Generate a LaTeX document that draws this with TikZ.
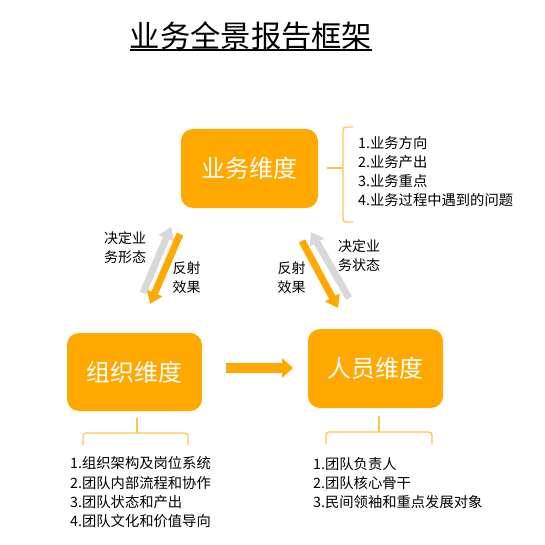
\documentclass[tikz,border=0pt]{standalone}
\usepackage{fontspec}
\newfontfamily\cjk{Noto Sans CJK SC}
\usetikzlibrary{arrows.meta,calc}
\definecolor{boxorange}{RGB}{255,168,0}
\definecolor{braceorange}{RGB}{255,196,80}
\definecolor{arrgray}{RGB}{216,216,216}
\begin{document}
\begin{tikzpicture}[x=1pt,y=-1pt,
  dimbox/.style={fill=boxorange, rounded corners=12pt, minimum width=137pt, minimum height=79pt, text=white, font=\cjk\fontsize{24}{28}\selectfont, inner sep=0pt},
  listtext/.style={font=\cjk\fontsize{14.3}{19.3}\selectfont, align=left, inner sep=0pt, anchor=west, text=black},
  lbl/.style={font=\cjk\fontsize{14}{19}\selectfont, align=left, inner sep=0pt},
  bracestyle/.style={draw=braceorange, line width=1.3pt, rounded corners=3pt},
  fatarrow/.style={line width=7pt, -{Triangle[width=16pt,length=12pt]}},
]
\useasboundingbox (0,0) rectangle (544,545);
\fill[white] (0,0) rectangle (544,545);

% title
\node[font=\cjk\fontsize{30.3}{34}\selectfont, inner sep=0pt] (title) at (251,36) {业务全景报告框架};
\draw[line width=1.6pt] (title.west |- 0,50) -- (title.east |- 0,50);

% boxes
\node[dimbox] (biz) at (249.5,168.5) {业务维度};
\node[dimbox, minimum width=135pt, minimum height=78pt] (org) at (134.5,372) {组织维度};
\node[dimbox, minimum width=135pt] (ppl) at (375.5,368.5) {人员维度};

% braces
\draw[bracestyle] (353,127) -- (343,127) -- (343,222) -- (353,222);
\coordinate (bt) at (327,168);
\draw[bracestyle] (bt) -- (343,168);
\draw[bracestyle] (83,445) -- (83,433) -- (188,433) -- (188,445);
\coordinate (ot) at (137,418);
\draw[bracestyle] (ot) -- (137,433);
\draw[bracestyle] (326,444) -- (326,432) -- (432,432) -- (432,444);
\coordinate (pt) at (379,416);
\draw[bracestyle] (pt) -- (379,432);

% lists
\node[listtext] (bizlist) at (358,171.5) {1.业务方向\\2.业务产出\\3.业务重点\\4.业务过程中遇到的问题};
\node[listtext] (orglist) at (70,492.5) {1.组织架构及岗位系统\\2.团队内部流程和协作\\3.团队状态和产出\\4.团队文化和价值导向};
\node[listtext] (ppllist) at (313,483) {1.团队负责人\\2.团队核心骨干\\3.民间领袖和重点发展对象};

% diagonal arrows left
\coordinate (lg1) at (143,293);
\coordinate (lg2) at (171,227);
\coordinate (lo1) at (180,234);
\coordinate (lo2) at (150,304);
\draw[fatarrow, draw=arrgray, fill=arrgray] (lg1) -- (lg2);
\draw[fatarrow, draw=boxorange, fill=boxorange] (lo1) -- (lo2);

% diagonal arrows right
\coordinate (ro1) at (302,241);
\coordinate (ro2) at (338,308);
\coordinate (rg1) at (349,298);
\coordinate (rg2) at (311,232);
\draw[fatarrow, draw=arrgray, fill=arrgray] (rg1) -- (rg2);
\draw[fatarrow, draw=boxorange, fill=boxorange] (ro1) -- (ro2);

% horizontal arrow
\coordinate (ha1) at (226,368);
\coordinate (ha2) at (293,368);
\draw[line width=10pt, draw=boxorange, fill=boxorange, -{Triangle[width=19pt,length=11pt]}] (ha1) -- (ha2);

% labels
\node[lbl] (l1) at (125,247.5) {决定业\\务形态};
\node[lbl] (l2) at (186.5,277.5) {反射\\效果};
\node[lbl] (l3) at (291.5,277.5) {反射\\效果};
\node[lbl] (l4) at (359,256) {决定业\\务状态};
\end{tikzpicture}
\end{document}
